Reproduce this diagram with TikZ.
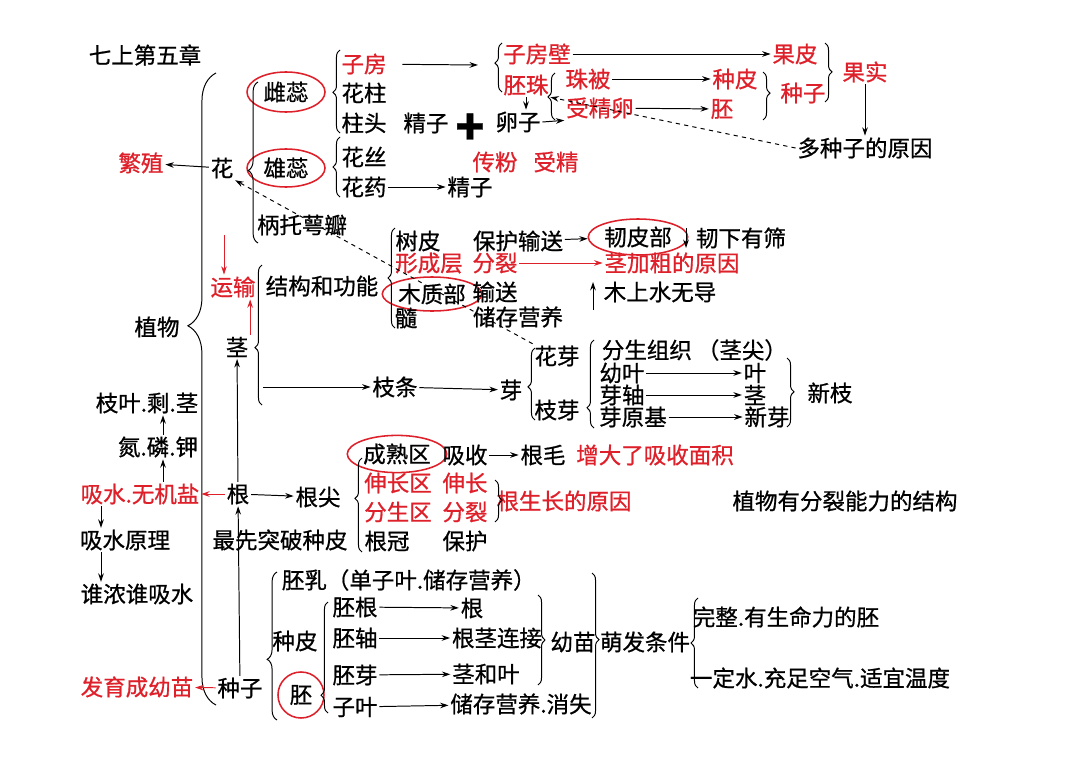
\documentclass[tikz,border=0pt]{standalone}
\usepackage{fontspec}
\setmainfont{Noto Sans CJK SC}[FakeBold=0.8]
\usetikzlibrary{arrows.meta,shapes.geometric,decorations.pathreplacing}
\definecolor{myred}{RGB}{222,32,42}
\begin{document}
\begin{tikzpicture}[x=0.025cm, y=-0.025cm, line width=0.7pt,
	every node/.style={inner sep=1pt, font=\fontsize{16}{19}\selectfont},
	hot/.style={text=myred},
	ring/.style={ellipse, draw=myred, line width=1.1pt},
	curly/.style={decorate, decoration={brace, amplitude=5pt, aspect=#1}},
	curly/.default=0.5,
	>={Stealth[length=6pt, width=4pt]}]
	\useasboundingbox (0,0) rectangle (1080,763);

	\node                (0) at (145,55)   {七上第五章};
	\node                (1) at (157,327)  {植物};
	\node[hot]           (2) at (141,163)  {繁殖};
	\node                (3) at (222,168)  {花};
	\node[ring, minimum width=1.95cm, minimum height=1cm]   (4) at (286,92)  {雌蕊};
	\node[ring, minimum width=1.95cm, minimum height=0.95cm] (5) at (286,168) {雄蕊};
	\node                (6) at (302,225)  {柄托萼瓣};
	\node[hot]           (7) at (364,64)   {子房};
	\node                (8) at (364,93)   {花柱};
	\node                (9) at (364,123)  {柱头};
	\node               (10) at (426,123)  {精子};
	\node[font=\fontsize{34}{34}\selectfont\bfseries] (11) at (470,129) {+};
	\node               (12) at (518,122)  {卵子};
	\node               (13) at (364,157)  {花丝};
	\node               (14) at (364,187)  {花药};
	\node               (15) at (470,187)  {精子};
	\node[hot]          (16) at (495,162)  {传粉};
	\node[hot]          (17) at (556,162)  {受精};
	\node[hot]          (18) at (537,54)   {子房壁};
	\node[hot]          (19) at (795,54)   {果皮};
	\node[hot]          (20) at (526,85)   {胚珠};
	\node[hot]          (21) at (588,79)   {珠被};
	\node[hot]          (22) at (735,79)   {种皮};
	\node[hot]          (23) at (600,108)  {受精卵};
	\node[hot]          (24) at (722,109)  {胚};
	\node[hot]          (25) at (803,93)   {种子};
	\node[hot]          (26) at (865,72)   {果实};
	\node               (27) at (865,148)  {多种子的原因};

	\node[hot]          (28) at (233,287)  {运输};
	\node               (29) at (237,347)  {茎};
	\node               (30) at (322,286)  {结构和功能};
	\node               (31) at (418,241)  {树皮};
	\node[hot]          (32) at (429,263)  {形成层};
	\node[ring, minimum width=1.93cm, minimum height=0.85cm] (33) at (432,294) {木质部};
	\node               (34) at (406,318)  {髓};
	\node               (35) at (518,241)  {保护输送};
	\node[hot]          (36) at (495,263)  {分裂};
	\node               (37) at (495,292)  {输送};
	\node               (38) at (518,317)  {储存营养};
	\node[ring, minimum width=1.9cm, minimum height=0.9cm]  (39) at (638,237) {韧皮部};
	\node               (40) at (741,238)  {韧下有筛};
	\node[hot]          (41) at (672,263)  {茎加粗的原因};
	\node               (42) at (660,292)  {木上水无导};
	\node               (43) at (395,387)  {枝条};
	\node               (44) at (511,390)  {芽};
	\node               (45) at (557,356)  {花芽};
	\node               (46) at (557,410)  {枝芽};
	\node[anchor=west]  (47) at (600,350)  {分生组织 （茎尖）};
	\node               (48) at (622,373)  {幼叶};
	\node               (49) at (755,373)  {叶};
	\node               (50) at (622,395)  {芽轴};
	\node               (51) at (755,395)  {茎};
	\node               (52) at (633,417)  {芽原基};
	\node               (53) at (767,417)  {新芽};
	\node               (54) at (830,393)  {新枝};

	\node               (55) at (147,403)  {枝叶.剩.茎};
	\node               (56) at (158,447)  {氮.磷.钾};
	\node[hot]          (57) at (140,494)  {吸水.无机盐};
	\node               (58) at (238,494)  {根};
	\node               (59) at (318,497)  {根尖};
	\node               (60) at (125,540)  {吸水原理};
	\node               (61) at (137,594)  {谁浓谁吸水};
	\node               (62) at (280,540)  {最先突破种皮};
	\node[ring, minimum width=1.93cm, minimum height=0.93cm] (63) at (397,454) {成熟区};
	\node               (64) at (465,455)  {吸收};
	\node               (65) at (543,455)  {根毛};
	\node[hot]          (66) at (655,455)  {增大了吸收面积};
	\node[hot]          (67) at (398,483)  {伸长区};
	\node[hot]          (68) at (465,483)  {伸长};
	\node[hot]          (69) at (398,512)  {分生区};
	\node[hot]          (70) at (465,512)  {分裂};
	\node               (71) at (387,541)  {根冠};
	\node               (72) at (465,541)  {保护};
	\node[hot]          (73) at (564,501)  {根生长的原因};
	\node               (74) at (845,501)  {植物有分裂能力的结构};

	\node[hot]          (75) at (137,687)  {发育成幼苗};
	\node               (76) at (240,688)  {种子};
	\node[anchor=west]  (77) at (280,580)  {胚乳（单子叶.储存营养）};
	\node               (78) at (295,641)  {种皮};
	\node[ring, circle, minimum size=1.15cm] (79) at (301,695) {胚};
	\node               (80) at (355,607)  {胚根};
	\node               (81) at (355,638)  {胚轴};
	\node               (82) at (355,675)  {胚芽};
	\node               (83) at (355,707)  {子叶};
	\node               (84) at (472,608)  {根};
	\node               (85) at (497,638)  {根茎连接};
	\node               (86) at (486,674)  {茎和叶};
	\node               (87) at (521,704)  {储存营养.消失};
	\node               (88) at (573,642)  {幼苗};
	\node               (89) at (645,642)  {萌发条件};
	\node               (90) at (786,617)  {完整.有生命力的胚};
	\node               (91) at (820,678)  {一定水.充足空气.适宜温度};

	\coordinate (c1) at (478,65);
	\coordinate (c2) at (224,235);
	\coordinate (c3) at (263,387);
	\coordinate (c4) at (686,228);
	\coordinate (c5) at (686,248);
	\coordinate (c6) at (593,310);
	\coordinate (c7) at (593,282);
	\coordinate (c8) at (163,470);
	\coordinate (c9) at (101,520);

	\draw [curly=0.6, decoration={amplitude=20pt}] (216,705) -- (216,73);
	\draw [curly=0.45, decoration={amplitude=7pt}] (258,243) -- (258,82);
	\draw [curly=0.49] (340,133) -- (340,50);
	\draw [curly]      (340,197) -- (340,137);
	\draw [curly=0.59] (502,92)  -- (502,43);
	\draw [curly=0.49] (555,120) -- (555,73);
	\draw [curly=0.41] (262,405) -- (262,265);
	\draw [curly]      (395,328) -- (395,228);
	\draw [curly=0.46] (535,420) -- (535,348);
	\draw [curly=0.23] (594,428) -- (594,340);
	\draw [curly=0.57] (362,552) -- (362,458);
	\draw [curly=0.41, decoration={amplitude=7pt}] (277,720) -- (277,572);
	\draw [curly=0.16] (328,713) -- (328,602);
	\draw [curly]      (698,688) -- (698,598);
	\draw [curly=0.44] (763,72)  -- (763,120);
	\draw [curly=0.49] (825,43)  -- (825,102);
	\draw [curly=0.49] (787,358) -- (787,427);
	\draw [curly=0.48] (495,480) -- (495,522);
	\draw [curly]      (538,595) -- (538,685);
	\draw [curly=0.46] (592,573) -- (592,718);

	\path [->] (3) edge (2);
	\path [->] (14) edge (15);
	\path [->, shorten <=0.35cm] (7) edge (c1);
	\path [->] (18) edge (19);
	\path [->] (21) edge (22);
	\path [->] (23) edge (24);
	\path [->] (20.south) edge (20.south |- 12.north);
	\path [->] (12.east) edge (23.south west);
	\path [->] (26) edge (27);
	\path [->, dashed] (27.west) edge (20.south east);
	\path [->, dashed] (45.north west) edge (3.south east);

	\path [->, myred] (c2) edge (c2 |- 28.north);
	\path [->, myred] (29.north east) edge (29.north east |- 28.south);
	\path [->] (c3) edge (43);
	\path [->] (43) edge (44);
	\path [->] (35) edge (39);
	\path [->] (c4) edge (c5);
	\path [->, myred] (36) edge (41);
	\path [->] (c6) edge (c7);
	\path [->] (48) edge (49);
	\path [->] (50) edge (51);
	\path [->] (52) edge (53);

	\path [->, myred] (58) edge (57);
	\path [->] (58) edge (59);
	\path [->] (58) edge (29);
	\path [->] (76) edge (58);
	\path [->] (c8 |- 57.north) edge (c8 |- 56.south);
	\path [->] (c8 |- 56.north) edge (c8 |- 55.south);
	\path [->] (c9 |- 57.south) edge (c9 |- 60.north);
	\path [->] (c9 |- 60.south) edge (c9 |- 61.north);
	\path [->] (64) edge (65);

	\path [->, myred] (76) edge (75);
	\path [->] (80) edge (84);
	\path [->] (81) edge (85);
	\path [->] (82) edge (86);
	\path [->] (83) edge (87);
\end{tikzpicture}
\end{document}
